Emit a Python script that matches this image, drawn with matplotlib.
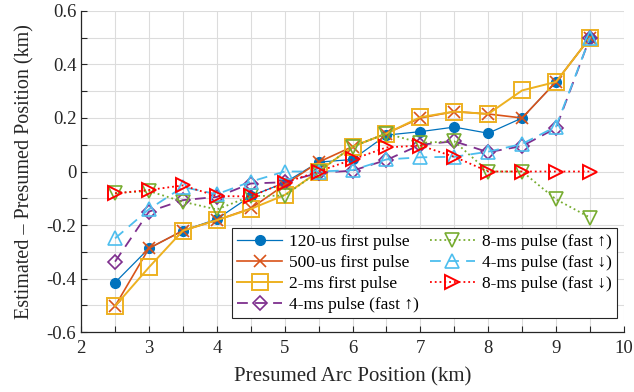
import matplotlib
matplotlib.use('Agg')
import matplotlib.pyplot as plt
import numpy as np

plt.rcParams['font.family'] = ['Liberation Serif', 'DejaVu Serif']
plt.rcParams['axes.unicode_minus'] = False

# --- Data ---
arc_pos = [2.5, 3, 3.5, 4, 4.5, 5, 5.5, 6, 6.5, 7, 7.5, 8, 8.5, 9, 9.5]

us120_first = [-0.415, -0.287, -0.221, -0.178, -0.092, -0.042, 0.035, 0.045,
               0.136, 0.149, 0.166, 0.143, 0.200, 0.335, 0.500]
us500_first = [-0.503, -0.287, -0.221, -0.182, -0.138, -0.050, 0.035, 0.093,
               0.142, 0.200, 0.224, 0.215, 0.200, 0.335, 0.500]
ms2_first = [-0.503, -0.358, -0.221, -0.182, -0.140, -0.088, 0.000, 0.093,
             0.142, 0.203, 0.224, 0.215, 0.303, 0.335, 0.500]
ms4_fast_up = [-0.337, -0.150, -0.107, -0.095, -0.045, -0.040, -0.005, 0.003,
               0.043, 0.100, 0.113, 0.072, 0.095, 0.162, 0.500]
ms8_fast_up = [-0.080, -0.073, -0.113, -0.142, -0.092, -0.090, 0.000, 0.093,
               0.142, 0.107, 0.113, 0.000, 0.000, -0.104, -0.172]
ms4_fast_down = [-0.250, -0.141, -0.058, -0.085, -0.038, 0.000, 0.000, 0.005,
                 0.045, 0.053, 0.055, 0.074, 0.103, 0.168, 0.500]
ms8_fast_down = [-0.082, -0.069, -0.052, -0.092, -0.093, -0.042, 0.000, 0.045,
                 0.090, 0.097, 0.055, 0.000, 0.000, 0.000, 0.000]

x_ticks = np.arange(2, 10.01, 0.5)
y_ticks = np.arange(-0.6, 0.61, 0.1)

fig = plt.figure(figsize=(6.34, 3.92), dpi=100)
ax = fig.add_axes([0.128, 0.153, 0.856, 0.819])

ax.plot(arc_pos, us120_first, '-', color='#0072BD', lw=0.9, marker='o',
        ms=7, mfc='#0072BD', mec='#0072BD', label='120-us first pulse')
ax.plot(arc_pos, us500_first, '-', color='#D95319', lw=1.2, marker='x',
        ms=9, mew=1.2, label='500-us first pulse')
ax.plot(arc_pos, ms2_first, '-', color='#EDB120', lw=1.4, marker='s',
        ms=11, mfc='none', mew=1.4, label='2-ms first pulse')
ax.plot(arc_pos, ms4_fast_up, '--', color='#7E2F8E', lw=1.3, dashes=(6, 4),
        marker='D', ms=7, mfc='none', mew=1.2, label='4-ms pulse (fast ↑)')
ax.plot(arc_pos, ms8_fast_up, ':', color='#77AC30', lw=1.3, marker='v',
        ms=9.5, mfc='none', mew=1.2, label='8-ms pulse (fast ↑)')
ax.plot(arc_pos, ms4_fast_down, '--', color='#4DBEEE', lw=1.3, dashes=(6, 4),
        marker='^', ms=9.5, mfc='none', mew=1.2, label='4-ms pulse (fast ↓)')
ax.plot(arc_pos, ms8_fast_down, ':', color='#FF0000', lw=1.3, marker='>',
        ms=9.5, mfc='none', mew=1.4, label='8-ms pulse (fast ↓)')

ax.set_xlim(2, 10)
ax.set_ylim(-0.6, 0.6)
ax.set_xticks(x_ticks)
ax.set_xticklabels([f'{t:g}' if abs(t - round(t)) < 1e-6 else '' for t in x_ticks])
ax.set_yticks(y_ticks)
ylabels = []
for i, t in enumerate(y_ticks):
    if i % 2 == 0:
        ylabels.append('0' if abs(t) < 1e-6 else f'{t:.1f}')
    else:
        ylabels.append('')
ax.set_yticklabels(ylabels)
ax.tick_params(direction='in', length=4, width=0.8, labelsize=13.5, colors='#262626')
ax.tick_params(axis='x', pad=6)
ax.grid(True, color='#dcdcdc', lw=0.8)
ax.set_axisbelow(True)
for side in ['top', 'right']:
    ax.spines[side].set_visible(False)
for side in ['left', 'bottom']:
    ax.spines[side].set_color('#262626')
    ax.spines[side].set_linewidth(0.9)

ax.set_xlabel('Presumed Arc Position (km)', fontsize=15, color='#262626', labelpad=7)
ax.set_ylabel('Estimated – Presumed Position (km)', fontsize=14.5, color='#262626', labelpad=9)

leg = ax.legend(ncol=2, loc='lower right', bbox_to_anchor=(0.987, 0.044),
                fontsize=12.5, fancybox=False, framealpha=1, edgecolor='#262626',
                handlelength=2.6, columnspacing=0.6, borderpad=0.3,
                labelspacing=0.28, handletextpad=0.4, borderaxespad=0)
leg.get_frame().set_linewidth(0.8)

fig.savefig('out.png', dpi=100)
